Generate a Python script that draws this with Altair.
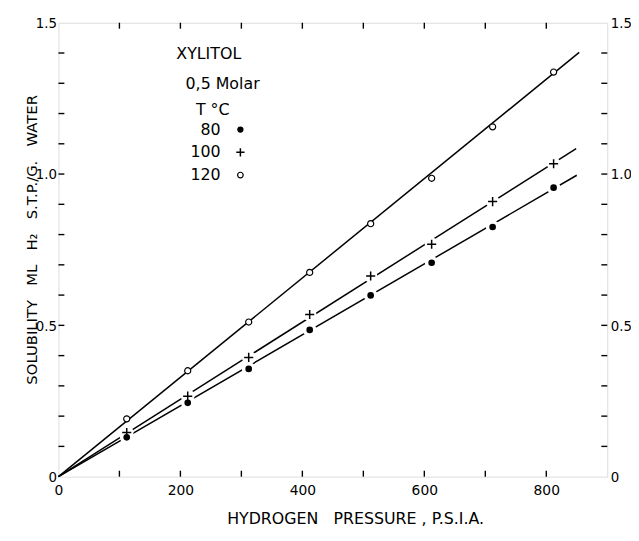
import altair as alt
import pandas as pd

# ---------------- data ----------------
temps = ["80", "100", "120"]
pressure = [112, 212, 312, 412, 512, 612, 712, 812]
sol_80 = [0.130, 0.244, 0.356, 0.485, 0.599, 0.707, 0.825, 0.955]
sol_100 = [0.146, 0.266, 0.394, 0.536, 0.663, 0.768, 0.909, 1.034]
sol_120 = [0.191, 0.350, 0.511, 0.675, 0.836, 0.986, 1.156, 1.337]

# straight fitted lines: start at origin, end values
line_start_p = [0, 0, 0]
line_start_s = [0, 0, 0]
line_end_p = [850, 849, 854]
line_end_s = [0.996, 1.084, 1.402]

x_label_values = [0, 200, 400, 600, 800]
x_tick_values = [100, 200, 300, 400, 500, 600, 700, 800]
y_label_values = [0, 0.5, 1.0, 1.5]
y_tick_values = [0.1, 0.2, 0.3, 0.4, 0.5, 0.6, 0.7, 0.8, 0.9,
                 1.0, 1.1, 1.2, 1.3, 1.4]

legend_head = ["XYLITOL", "0,5 Molar", "T °C"]
legend_labels = ["80", "100", "120"]

x_title = "HYDROGEN\u00a0\u00a0\u00a0PRESSURE\u00a0,\u00a0P.S.I.A."
y_title = ("SOLUBILITY\u00a0\u00a0\u00a0ML\u00a0\u00a0\u00a0H\u2082\u00a0\u00a0\u00a0"
           "S.T.P./G.\u00a0\u00a0\u00a0WATER")

# ---------------- tables ----------------
pts = pd.DataFrame({
    "p": pressure * 3,
    "s": sol_80 + sol_100 + sol_120,
    "t": ["80"] * 8 + ["100"] * 8 + ["120"] * 8,
})
lines_df = pd.DataFrame({
    "p": line_start_p + line_end_p,
    "s": line_start_s + line_end_s,
    "t": temps + temps,
})
xt_df = pd.DataFrame({"p": x_tick_values})
yt_df = pd.DataFrame({"s": y_tick_values})

W, H = 555, 459
TL = 6  # inward tick length
FONT = "DejaVu Sans"
NFONT = "Liberation Sans Narrow, DejaVu Sans Condensed, Liberation Sans"
xs = alt.Scale(domain=[0, 900], nice=False, zero=False)
ys = alt.Scale(domain=[0, 1.5], nice=False, zero=False)
ylab_expr = "datum.value == 0 ? '0' : format(datum.value, '.1f')"

# fitted lines, with the labelled bottom and left axes
lines = alt.Chart(lines_df).mark_line(color="black", strokeWidth=1.5).encode(
    x=alt.X("p:Q", scale=xs, axis=alt.Axis(
        orient="bottom", values=x_label_values, ticks=False, domain=False,
        grid=False, labelFont=FONT, labelFontSize=14, labelColor="black",
        labelPadding=7, labelFlush=False, format="d",
        title=x_title, titleFont=FONT, titleFontSize=16,
        titleFontWeight="normal", titleColor="black",
        titleX=300, titleY=47, titleBaseline="alphabetic", titleAlign="center")),
    y=alt.Y("s:Q", scale=ys, axis=alt.Axis(
        orient="left", values=y_label_values, ticks=False, domain=False,
        grid=False, labelFont=NFONT, labelFontSize=15, labelColor="black",
        labelPadding=2, labelFlush=False, labelExpr=ylab_expr,
        title=y_title, titleFont=FONT, titleFontSize=15,
        titleFontWeight="normal", titleColor="black",
        titleX=-22, titleY=219, titleBaseline="alphabetic", titleAlign="center")),
    detail="t:N",
)

# inward tick marks on all four edges
rule_style = dict(color="black", strokeWidth=1.4)
tick_bottom = alt.Chart(xt_df).mark_rule(**rule_style).encode(
    x=alt.X("p:Q", scale=xs, axis=None), y=alt.value(H), y2=alt.value(H - TL))
tick_top = alt.Chart(xt_df).mark_rule(**rule_style).encode(
    x=alt.X("p:Q", scale=xs, axis=None), y=alt.value(0), y2=alt.value(TL))
tick_left = alt.Chart(yt_df).mark_rule(**rule_style).encode(
    y=alt.Y("s:Q", scale=ys, axis=None), x=alt.value(0), x2=alt.value(TL))
tick_right = alt.Chart(yt_df).mark_rule(**rule_style).encode(
    y=alt.Y("s:Q", scale=ys, axis=None), x=alt.value(W - TL), x2=alt.value(W))

# white halos that break the 80 and 100 lines around the markers
halo = alt.Chart(pts).transform_filter(
    alt.FieldOneOfPredicate(field="t", oneOf=["80", "100"])
).mark_point(filled=True, shape="circle", color="white", opacity=1, size=190).encode(
    x=alt.X("p:Q", scale=xs, axis=None),
    y=alt.Y("s:Q", scale=ys, axis=None),
)

# 80 °C filled dots
p80 = alt.Chart(pts).transform_filter(alt.datum.t == "80").mark_point(
    filled=True, shape="circle", color="black", opacity=1, size=45).encode(
    x=alt.X("p:Q", scale=xs, axis=None),
    y=alt.Y("s:Q", scale=ys, axis=None),
)

# 100 °C plus signs; carries the labelled right axis
p100 = alt.Chart(pts).transform_filter(alt.datum.t == "100").mark_point(
    shape="M-1,0L1,0M0,-1L0,1", filled=False, color="black", opacity=1,
    strokeWidth=1.5, size=85).encode(
    x=alt.X("p:Q", scale=xs, axis=None),
    y=alt.Y("s:Q", scale=ys, axis=alt.Axis(
        orient="right", values=y_label_values, ticks=False, domain=False,
        grid=False, labelFont=NFONT, labelFontSize=15, labelColor="black",
        labelPadding=3, labelFlush=False, labelExpr=ylab_expr, title=None)),
)

# 120 °C open circles
p120 = alt.Chart(pts).transform_filter(alt.datum.t == "120").mark_point(
    shape="circle", filled=False, fill="white", stroke="black", opacity=1,
    strokeWidth=1.2, size=38).encode(
    x=alt.X("p:Q", scale=xs, axis=None),
    y=alt.Y("s:Q", scale=ys, axis=None),
)

# legend block (annotation text inside the plot)
txt = dict(font=FONT, fontSize=16, color="black")
leg = [
    alt.Chart(pd.DataFrame({"l": [legend_head[0]]})).mark_text(**txt).encode(
        text="l:N", x=alt.value(152), y=alt.value(32)),
    alt.Chart(pd.DataFrame({"l": [legend_head[1]]})).mark_text(**txt).encode(
        text="l:N", x=alt.value(166), y=alt.value(62)),
    alt.Chart(pd.DataFrame({"l": [legend_head[2]]})).mark_text(**txt).encode(
        text="l:N", x=alt.value(156), y=alt.value(88)),
]
for i, lab in enumerate(legend_labels):
    leg.append(alt.Chart(pd.DataFrame({"l": [lab]})).mark_text(
        align="right", **txt).encode(text="l:N", x=alt.value(164),
                                     y=alt.value(108 + 23 * i)))
leg.append(alt.Chart(pd.DataFrame({"l": [legend_labels[0]]})).mark_point(
    filled=True, shape="circle", color="black", opacity=1, size=40).encode(
    x=alt.value(184), y=alt.value(108)))
leg.append(alt.Chart(pd.DataFrame({"l": [legend_labels[1]]})).mark_point(
    shape="M-1,0L1,0M0,-1L0,1", filled=False, color="black", opacity=1,
    strokeWidth=1.5, size=70).encode(x=alt.value(184), y=alt.value(131)))
leg.append(alt.Chart(pd.DataFrame({"l": [legend_labels[2]]})).mark_point(
    shape="circle", filled=False, fill="white", stroke="black", opacity=1,
    strokeWidth=1.2, size=32).encode(x=alt.value(184), y=alt.value(154)))

chart = alt.layer(
    lines, tick_bottom, tick_top, tick_left, tick_right,
    halo, p80, p100, p120, *leg
).resolve_scale(
    x="independent", y="independent"
).properties(
    width=W, height=H,
    autosize=alt.AutoSizeParams(type="none"),
    padding={"left": 51, "top": 12, "right": 24, "bottom": 49},
).configure_view(
    stroke="black", strokeWidth=1.6
).configure(background="white")

chart.save("out.html", embed_options={"renderer": "svg", "actions": False})
